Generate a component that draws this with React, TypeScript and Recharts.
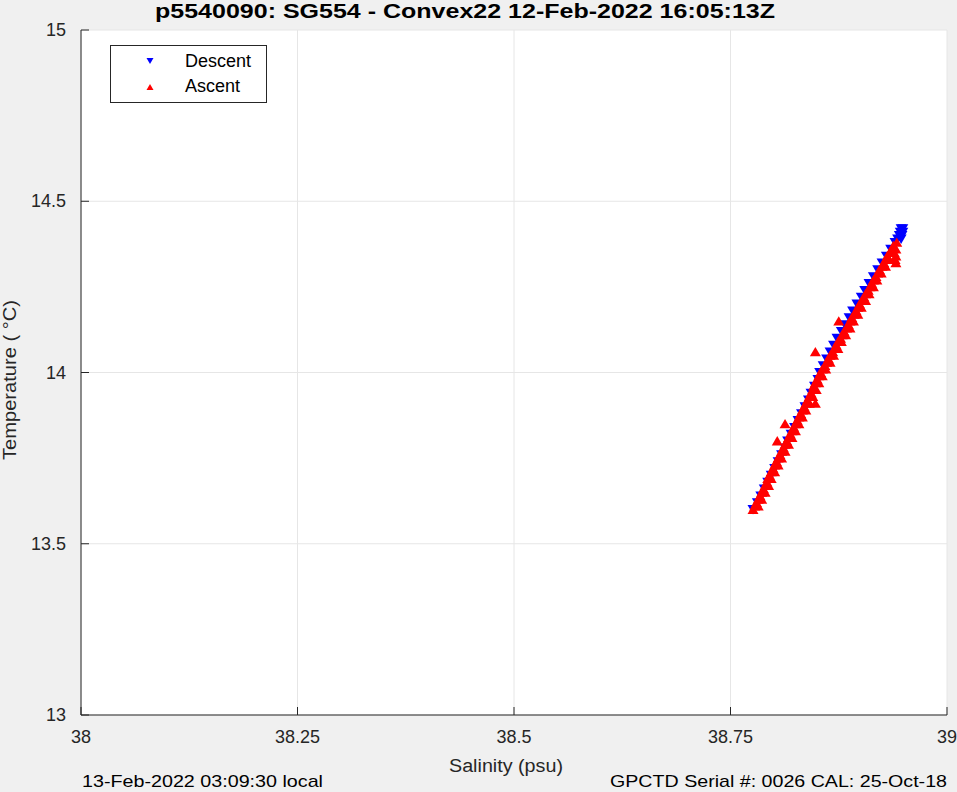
import React from "react";
import { ScatterChart, Scatter, XAxis, YAxis, CartesianGrid } from "recharts";

// Salinity (psu) / temperature (°C)
const descentSal = [
  38.776, 38.781, 38.785, 38.789, 38.793, 38.797, 38.801, 38.805, 38.809, 38.813,
  38.816, 38.82, 38.824, 38.828, 38.832, 38.836, 38.84, 38.843, 38.847, 38.851,
  38.853, 38.857, 38.861, 38.865, 38.869, 38.873, 38.878, 38.882, 38.887, 38.891,
  38.896, 38.901, 38.905, 38.91, 38.915, 38.92, 38.925, 38.93, 38.935, 38.94,
  38.943, 38.945, 38.946, 38.947, 38.949, 38.949, 38.948, 38.947,
];
const descentTemp = [
  13.6, 13.62, 13.64, 13.66, 13.68, 13.7, 13.72, 13.74, 13.76, 13.78,
  13.8, 13.82, 13.84, 13.86, 13.88, 13.9, 13.92, 13.94, 13.96, 13.98,
  14.0, 14.02, 14.04, 14.06, 14.08, 14.1, 14.12, 14.14, 14.16, 14.18,
  14.2, 14.22, 14.24, 14.26, 14.28, 14.3, 14.32, 14.34, 14.36, 14.38,
  14.39, 14.4, 14.41, 14.42, 14.42, 14.41, 14.4, 14.39,
];

const ascentSal = [
  38.776, 38.778, 38.78, 38.782, 38.784, 38.786, 38.788, 38.79, 38.792, 38.793,
  38.795, 38.797, 38.799, 38.801, 38.803, 38.805, 38.807, 38.809, 38.811, 38.813,
  38.815, 38.817, 38.819, 38.821, 38.823, 38.825, 38.827, 38.829, 38.831, 38.833,
  38.835, 38.837, 38.839, 38.841, 38.843, 38.845, 38.846, 38.848, 38.85, 38.852,
  38.854, 38.856, 38.859, 38.861, 38.863, 38.865, 38.868, 38.87, 38.872, 38.874,
  38.877, 38.879, 38.881, 38.884, 38.886, 38.888, 38.89, 38.893, 38.895, 38.897,
  38.899, 38.902, 38.904, 38.906, 38.909, 38.911, 38.913, 38.915, 38.918, 38.92,
  38.922, 38.925, 38.927, 38.929, 38.931, 38.934, 38.936, 38.938,
  38.782, 38.786, 38.79, 38.794, 38.797, 38.801, 38.805, 38.809, 38.813, 38.817,
  38.821, 38.825, 38.829, 38.833, 38.837, 38.841, 38.845, 38.849, 38.852, 38.856,
  38.86, 38.865, 38.869, 38.874, 38.878, 38.883, 38.888, 38.892, 38.897, 38.901,
  38.906, 38.91, 38.915, 38.919, 38.924, 38.929, 38.933, 38.938,
  38.941, 38.941, 38.941, 38.942, 38.94, 38.939,
  38.875, 38.848, 38.813, 38.804, 38.848,
];
const ascentTemp = [
  13.6, 13.61, 13.62, 13.63, 13.64, 13.65, 13.66, 13.67, 13.68, 13.69,
  13.7, 13.71, 13.72, 13.73, 13.74, 13.75, 13.76, 13.77, 13.78, 13.79,
  13.8, 13.81, 13.82, 13.83, 13.84, 13.85, 13.86, 13.87, 13.88, 13.89,
  13.9, 13.91, 13.92, 13.93, 13.94, 13.95, 13.96, 13.97, 13.98, 13.99,
  14.0, 14.01, 14.02, 14.03, 14.04, 14.05, 14.06, 14.07, 14.08, 14.09,
  14.1, 14.11, 14.12, 14.13, 14.14, 14.15, 14.16, 14.17, 14.18, 14.19,
  14.2, 14.21, 14.22, 14.23, 14.24, 14.25, 14.26, 14.27, 14.28, 14.29,
  14.3, 14.31, 14.32, 14.33, 14.34, 14.35, 14.36, 14.37,
  13.61, 13.63, 13.65, 13.67, 13.69, 13.71, 13.73, 13.75, 13.77, 13.79,
  13.81, 13.83, 13.85, 13.87, 13.89, 13.91, 13.93, 13.95, 13.97, 13.99,
  14.01, 14.03, 14.05, 14.07, 14.09, 14.11, 14.13, 14.15, 14.17, 14.19,
  14.21, 14.23, 14.25, 14.27, 14.29, 14.31, 14.33, 14.35,
  14.32, 14.34, 14.36, 14.38, 14.33, 14.35,
  14.15, 14.06, 13.85, 13.8, 13.91,
];

const xTicks = [38, 38.25, 38.5, 38.75, 39];
const yTicks = [13, 13.5, 14, 14.5, 15];

const descent = descentSal.map((s, i) => ({ sal: s, temp: descentTemp[i] }));
const ascent = ascentSal.map((s, i) => ({ sal: s, temp: ascentTemp[i] }));

const FONT = "'Liberation Sans', Arial, Helvetica, sans-serif";
const INK = "#262626";

const TriDown = (props: any) => {
  const { cx, cy } = props;
  const s = 5.5;
  return (
    <polygon
      points={`${cx - s},${cy - s * 0.8} ${cx + s},${cy - s * 0.8} ${cx},${cy + s * 0.9}`}
      fill="#0000ff"
    />
  );
};

const TriUp = (props: any) => {
  const { cx, cy } = props;
  const s = 5.5;
  return (
    <polygon
      points={`${cx - s},${cy + s * 0.8} ${cx + s},${cy + s * 0.8} ${cx},${cy - s * 0.9}`}
      fill="#ff0000"
    />
  );
};

const YTick = (props: any) => {
  const { x, y, payload } = props;
  const axisX = x + 15;
  return (
    <g>
      <line x1={axisX} x2={axisX + 8} y1={y} y2={y} stroke={INK} />
      <text x={x} y={y} dy={6} textAnchor="end" fontSize={18} fontFamily={FONT} fill={INK}>
        {payload.value}
      </text>
    </g>
  );
};

const XTick = (props: any) => {
  const { x, y, payload } = props;
  const axisY = y - 10;
  return (
    <g>
      <line x1={x} x2={x} y1={axisY} y2={axisY - 8} stroke={INK} />
      <text x={x} y={y} dy={18} textAnchor="middle" fontSize={18} fontFamily={FONT} fill={INK}>
        {payload.value}
      </text>
    </g>
  );
};

export default function App() {
  return (
    <div
      style={{
        position: "absolute",
        left: 0,
        top: 0,
        width: 957,
        height: 792,
        background: "#f0f0f0",
      }}
    >
      <ScatterChart width={957} height={792} margin={{ top: 30, right: 10, bottom: 17, left: 11 }}>
        <CartesianGrid stroke="#e6e6e6" fill="#ffffff" />
        <XAxis
          type="number"
          dataKey="sal"
          domain={[38, 39]}
          ticks={xTicks}
          height={60}
          tickSize={0}
          tickMargin={10}
          tick={<XTick />}
          stroke={INK}
          interval={0}
        />
        <YAxis
          type="number"
          dataKey="temp"
          domain={[13, 15]}
          ticks={yTicks}
          width={70}
          tickSize={0}
          tickMargin={15}
          tick={<YTick />}
          stroke={INK}
          interval={0}
        />
        <Scatter data={descent} shape={<TriDown />} isAnimationActive={false} />
        <Scatter data={ascent} shape={<TriUp />} isAnimationActive={false} />
      </ScatterChart>

      <svg
        width={957}
        height={792}
        style={{ position: "absolute", left: 0, top: 0, pointerEvents: "none" }}
      >
        <text
          x={155}
          y={18}
          fontSize={21}
          fontWeight="bold"
          fontFamily={FONT}
          fill="#000"
          textLength={620}
          lengthAdjust="spacingAndGlyphs"
        >
          p5540090: SG554 - Convex22 12-Feb-2022 16:05:13Z
        </text>
        <text
          x={449}
          y={772}
          fontSize={18}
          fontFamily={FONT}
          fill={INK}
          textLength={114}
          lengthAdjust="spacingAndGlyphs"
        >
          Salinity (psu)
        </text>
        <text
          x={16}
          y={460}
          fontSize={18}
          fontFamily={FONT}
          fill={INK}
          transform="rotate(-90 16 460)"
          textLength={160}
          lengthAdjust="spacingAndGlyphs"
        >
          Temperature (   °C)
        </text>
        <text
          x={82}
          y={787}
          fontSize={17}
          fontFamily={FONT}
          fill="#000"
          textLength={241}
          lengthAdjust="spacingAndGlyphs"
        >
          13-Feb-2022 03:09:30 local
        </text>
        <text
          x={610}
          y={787}
          fontSize={17}
          fontFamily={FONT}
          fill="#000"
          textLength={337}
          lengthAdjust="spacingAndGlyphs"
        >
          GPCTD Serial #: 0026 CAL: 25-Oct-18
        </text>

        <rect x={110.5} y={45.5} width={156} height={57} fill="#ffffff" stroke={INK} />
        <polygon points="146.5,58 153.5,58 150,64" fill="#0000ff" />
        <text x={185} y={67} fontSize={18} fontFamily={FONT} fill="#000">
          Descent
        </text>
        <polygon points="146.5,90 153.5,90 150,84" fill="#ff0000" />
        <text x={185} y={92} fontSize={18} fontFamily={FONT} fill="#000">
          Ascent
        </text>
      </svg>
    </div>
  );
}
